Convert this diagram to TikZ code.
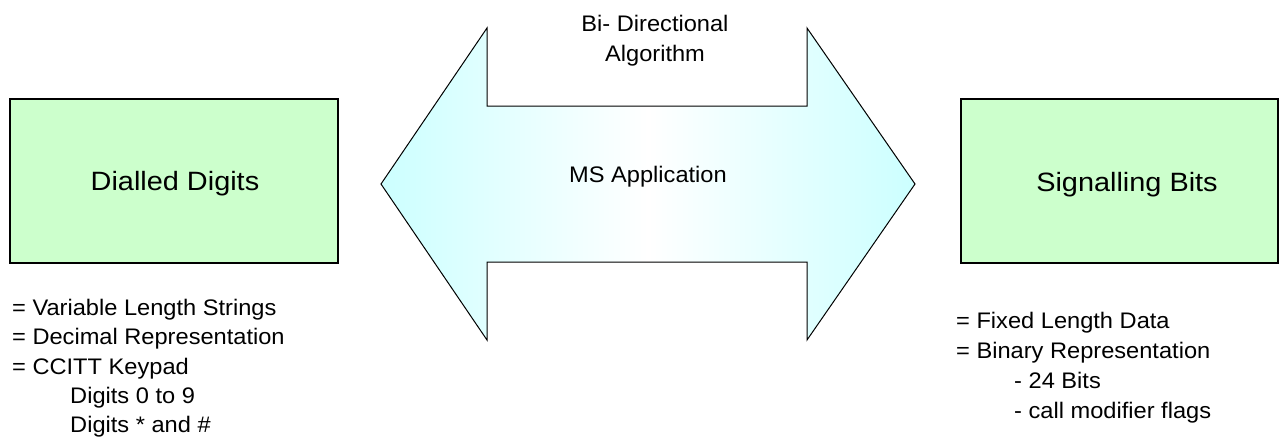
\documentclass[tikz,border=0pt]{standalone}
\usepackage{fontspec}
\setmainfont{Liberation Sans}
\newfontfamily\bigf[FakeStretch=1.09]{Liberation Sans}
\newfontfamily\smallf[FakeStretch=1.05]{Liberation Sans}
\definecolor{boxg}{RGB}{204,255,204}
\definecolor{arrc}{RGB}{204,255,255}
\begin{document}
\begin{tikzpicture}[x=1pt,y=-1pt,
  box/.style={draw=black, line width=1.2pt, fill=boxg, inner sep=0pt},
  bigtxt/.style={font=\bigf\fontsize{26.5}{30}\selectfont, inner sep=0pt, anchor=base},
  midtxt/.style={font=\smallf\fontsize{22.5}{30}\selectfont, inner sep=0pt, anchor=base},
  smalltxt/.style={font=\smallf\fontsize{22.5}{30}\selectfont, inner sep=0pt, anchor=base west},
  bigarrow/.style={draw=black, line width=1pt, left color=arrc, right color=arrc, middle color=white}]
\useasboundingbox (0,0) rectangle (1279,437);

% double arrow
\draw[bigarrow] (381,184) -- (487,28) -- (487,106) -- (807,106) -- (807,28)
  -- (915,184) -- (807,340) -- (807,262) -- (487,262) -- (487,340) -- cycle;

% boxes
\node[box, minimum width=328pt, minimum height=164pt] (dd) at (174,181) {};
\node[box, minimum width=317pt, minimum height=164pt] (sb) at (1119.5,181) {};
\node[bigtxt] (ddt) at (175,190) {Dialled Digits};
\node[bigtxt] (sbt) at (1127,191) {Signalling Bits};

% arrow labels
\node[midtxt] (bi1) at (655,31.5) {Bi- Directional};
\node[midtxt] (bi2) at (655,61) {Algorithm};
\node[midtxt] (ms) at (648,182) {MS Application};

% left notes
\node[smalltxt] (l1) at (12,315) {= Variable Length Strings};
\node[smalltxt] (l2) at (12,344.5) {= Decimal Representation};
\node[smalltxt] (l3) at (12,374) {= CCITT Keypad};
\node[smalltxt] (l4) at (70,403) {Digits 0 to 9};
\node[smalltxt] (l5) at (70,432) {Digits * and \#};

% right notes
\node[smalltxt] (r1) at (956,328) {= Fixed Length Data};
\node[smalltxt] (r2) at (956,358) {= Binary Representation};
\node[smalltxt] (r3) at (1014,388) {- 24 Bits};
\node[smalltxt] (r4) at (1014,418) {- call modifier flags};
\end{tikzpicture}
\end{document}
